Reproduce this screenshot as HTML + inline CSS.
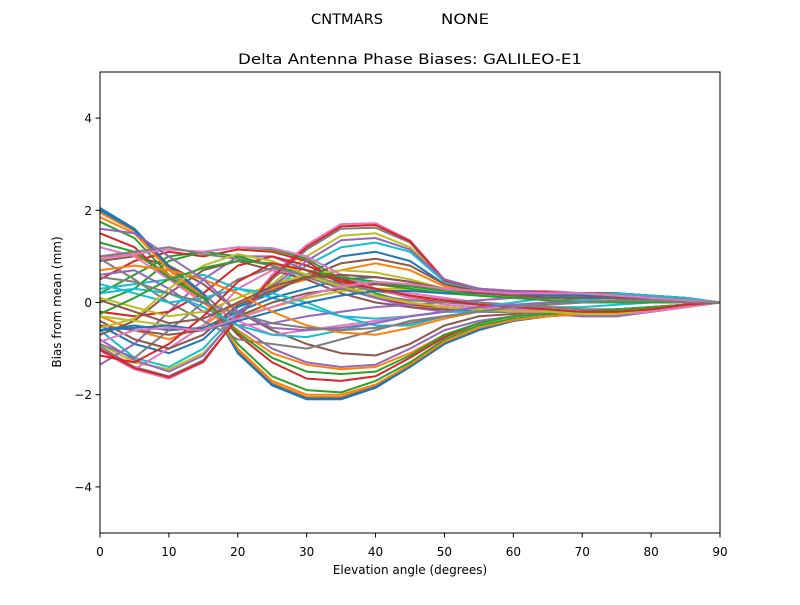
<!DOCTYPE html>
<html><head><meta charset="utf-8"><style>
body{margin:0;background:#fff}
svg text{font-family:"DejaVu Sans","Liberation Sans",sans-serif;fill:#000}
</style></head><body>
<svg id="chart" width="800" height="600" viewBox="0 0 800 600" xmlns="http://www.w3.org/2000/svg">
<rect width="800" height="600" fill="#fff"/>
<text x="311" y="24" font-size="14" textLength="72" lengthAdjust="spacingAndGlyphs">CNTMARS</text>
<text x="441" y="24" font-size="14" textLength="48" lengthAdjust="spacingAndGlyphs">NONE</text>
<text x="238" y="64" font-size="14.4" textLength="344" lengthAdjust="spacingAndGlyphs">Delta Antenna Phase Biases: GALILEO-E1</text>
<text x="410" y="574" font-size="12" text-anchor="middle">Elevation angle (degrees)</text>
<text transform="translate(61,302) rotate(-90)" font-size="12" text-anchor="middle">Bias from mean (mm)</text>
<defs><clipPath id="clip"><rect x="100" y="72" width="620" height="461"/></clipPath></defs>
<g id="lines" clip-path="url(#clip)"></g>
<g id="axes"></g>
</svg>
<script>
const elevations=[0,5,10,15,20,25,30,35,40,45,50,55,60,65,70,75,80,85,90];
const xTicks=[0,10,20,30,40,50,60,70,80,90];
const yTicks=[-4,-2,0,2,4];
const s1=[2.05,1.6,0.8,0.2,-1.1,-1.8,-2.1,-2.1,-1.85,-1.4,-0.9,-0.6,-0.4,-0.3,-0.25,-0.2,-0.15,-0.05,0];
const s2=[1.95,1.55,0.75,0.15,-1.05,-1.75,-2.05,-2.05,-1.8,-1.35,-0.85,-0.55,-0.4,-0.3,-0.25,-0.2,-0.12,-0.05,0];
const s3=[1.75,1.4,0.6,0.1,-0.9,-1.6,-1.9,-1.95,-1.7,-1.3,-0.8,-0.5,-0.35,-0.3,-0.25,-0.2,-0.1,-0.05,0];
const s4=[1.5,1.2,0.5,0.1,-0.7,-1.3,-1.65,-1.7,-1.6,-1.2,-0.75,-0.45,-0.3,-0.25,-0.2,-0.15,-0.1,-0.05,0];
const s5=[1.0,1.1,0.6,0.2,-0.5,-1.0,-1.3,-1.4,-1.35,-1.0,-0.6,-0.4,-0.3,-0.25,-0.2,-0.2,-0.1,-0.05,0];
const s6=[0.9,1.0,0.8,0.4,-0.2,-0.6,-0.9,-1.1,-1.15,-0.9,-0.5,-0.3,-0.25,-0.2,-0.2,-0.15,-0.1,-0.05,0];
const s7=[-1.0,-1.45,-1.65,-1.3,-0.3,0.6,1.25,1.7,1.72,1.35,0.5,0.3,0.25,0.25,0.2,0.2,0.15,0.1,0];
const s8=[-0.95,-1.4,-1.6,-1.25,-0.35,0.5,1.15,1.6,1.62,1.3,0.45,0.3,0.25,0.2,0.2,0.2,0.15,0.1,0];
const s9=[-0.9,-1.3,-1.45,-1.1,-0.3,0.4,1.0,1.45,1.5,1.2,0.5,0.3,0.25,0.2,0.2,0.2,0.15,0.05,0];
const s10=[-0.6,-1.2,-1.4,-1.0,-0.2,0.3,0.8,1.2,1.3,1.1,0.45,0.3,0.2,0.2,0.2,0.15,0.1,0.05,0];
const s11=[-0.5,-0.9,-1.1,-0.8,-0.1,0.2,0.6,1.0,1.1,0.9,0.4,0.25,0.2,0.15,0.15,0.15,0.1,0.05,0];
const s12=[-0.3,-0.6,-0.8,-0.5,0.0,0.3,0.5,0.7,0.85,0.7,0.35,0.25,0.2,0.15,0.15,0.1,0.1,0.05,0];
const s13=[0.2,0.6,1.0,1.1,1.2,1.15,0.95,0.5,0.2,0.0,-0.1,-0.15,-0.2,-0.25,-0.3,-0.3,-0.2,-0.1,0];
const s14=[0.5,0.9,1.1,1.0,1.15,1.1,0.9,0.4,0.1,-0.05,-0.1,-0.15,-0.2,-0.25,-0.25,-0.25,-0.2,-0.1,0];
const s15=[-1.35,-0.9,-0.2,0.5,1.0,1.0,0.7,0.3,0.1,-0.1,-0.2,-0.2,-0.2,-0.25,-0.3,-0.3,-0.2,-0.1,0];
const s16=[-0.7,-0.4,0.2,0.7,0.9,0.7,0.5,0.2,0.0,-0.1,-0.15,-0.2,-0.2,-0.2,-0.25,-0.25,-0.15,-0.05,0];
const s17=[-1.05,-1.45,-1.0,-0.5,0.3,0.7,0.6,0.4,0.3,0.2,0.1,0.0,-0.1,-0.2,-0.25,-0.25,-0.15,-0.05,0];
const s18=[0.95,0.5,0.0,-0.4,-0.8,-0.9,-1.0,-0.8,-0.6,-0.4,-0.3,-0.2,-0.1,0.0,0.1,0.15,0.15,0.1,0];
const s19=[-0.3,-0.4,-0.5,-0.6,-0.3,-0.1,0.1,0.25,0.3,0.3,0.2,0.2,0.2,0.2,0.15,0.15,0.1,0.05,0];
const s20=[0.3,0.4,0.5,0.6,0.3,0.1,-0.1,-0.3,-0.35,-0.3,-0.2,-0.2,-0.15,-0.1,-0.1,-0.05,0.0,0.0,0];
const s21=[-0.6,-0.5,-0.6,-0.55,-0.2,0.1,0.3,0.5,0.55,0.45,0.3,0.25,0.25,0.2,0.2,0.15,0.1,0.05,0];
const s22=[1.0,1.05,0.6,0.0,-0.6,-1.1,-1.35,-1.45,-1.4,-1.1,-0.7,-0.45,-0.3,-0.25,-0.2,-0.2,-0.1,-0.05,0];
const s23=[0.0,0.3,0.9,1.1,1.0,0.8,0.6,0.5,0.4,0.3,0.2,0.15,0.1,0.05,0.05,0.0,0.0,0.0,0];
const s24=[-0.2,-0.3,-0.2,0.2,0.8,1.0,0.8,0.5,0.3,0.1,0.0,0.0,-0.05,-0.1,-0.15,-0.15,-0.1,-0.05,0];
const s25=[0.6,0.7,0.3,-0.2,-0.5,-0.45,-0.3,-0.2,-0.1,-0.05,0.0,0.05,0.1,0.1,0.1,0.1,0.05,0.0,0];
const s26=[-0.5,-0.6,-0.7,-0.6,-0.3,0.0,0.2,0.3,0.4,0.35,0.3,0.25,0.25,0.2,0.2,0.2,0.15,0.05,0];
const s27=[1.2,1.0,0.5,0.0,-0.4,-0.7,-0.6,-0.5,-0.4,-0.3,-0.2,-0.1,-0.05,0.0,0.0,0.05,0.05,0.0,0];
const s28=[-0.9,-1.2,-0.6,0.0,0.5,0.75,0.6,0.4,0.25,0.15,0.05,0.0,-0.05,-0.1,-0.15,-0.15,-0.1,-0.05,0];
const s29=[0.1,-0.1,-0.3,-0.2,0.1,0.4,0.6,0.7,0.65,0.5,0.3,0.2,0.15,0.1,0.1,0.1,0.05,0.0,0];
const s30=[0.4,0.2,0.0,0.1,0.3,0.2,0.0,-0.3,-0.5,-0.5,-0.3,-0.2,-0.1,0.0,0.05,0.1,0.1,0.05,0];
const s31=[2.0,1.58,0.78,0.18,-1.08,-1.78,-2.08,-2.08,-1.83,-1.38,-0.88,-0.58,-0.4,-0.3,-0.25,-0.2,-0.13,-0.05,0];
const s32=[1.85,1.5,0.7,0.12,-1.0,-1.7,-2.0,-2.0,-1.78,-1.35,-0.85,-0.55,-0.38,-0.3,-0.25,-0.2,-0.12,-0.05,0];
const s33=[1.3,1.1,0.55,0.1,-0.65,-1.2,-1.5,-1.55,-1.5,-1.15,-0.7,-0.45,-0.3,-0.25,-0.2,-0.15,-0.1,-0.05,0];
const s34=[-1.02,-1.42,-1.62,-1.28,-0.32,0.55,1.2,1.65,1.68,1.33,0.48,0.3,0.25,0.22,0.2,0.2,0.15,0.1,0];
const s35=[-0.8,-1.25,-1.5,-1.15,-0.25,0.35,0.9,1.35,1.4,1.15,0.5,0.3,0.25,0.2,0.2,0.18,0.12,0.05,0];
const s36=[-0.4,-0.8,-1.0,-0.7,-0.05,0.25,0.55,0.85,0.95,0.8,0.4,0.25,0.2,0.15,0.15,0.12,0.1,0.05,0];
const s37=[0.95,1.05,1.15,1.1,1.2,1.18,1.0,0.6,0.3,0.1,-0.05,-0.1,-0.15,-0.2,-0.25,-0.25,-0.2,-0.1,0];
const s38=[1.0,1.1,1.2,1.05,0.95,0.8,0.55,0.3,0.15,0.05,0.0,-0.05,-0.1,-0.15,-0.2,-0.2,-0.15,-0.05,0];
const s39=[-0.55,-0.35,0.3,0.8,1.05,0.9,0.6,0.35,0.15,0.0,-0.1,-0.15,-0.2,-0.2,-0.25,-0.25,-0.15,-0.05,0];
const s40=[0.2,0.3,0.2,-0.1,-0.5,-0.7,-0.75,-0.6,-0.45,-0.3,-0.2,-0.1,0.0,0.1,0.15,0.2,0.15,0.1,0];
const s41=[-0.6,-0.55,-0.5,-0.6,-0.4,-0.2,0.0,0.15,0.25,0.25,0.2,0.2,0.15,0.15,0.15,0.1,0.1,0.05,0];
const s42=[0.7,0.8,0.7,0.5,0.2,-0.2,-0.5,-0.65,-0.7,-0.55,-0.35,-0.2,-0.1,-0.05,0.0,0.05,0.05,0.0,0];
const s43=[-0.25,0.1,0.5,0.75,0.9,0.85,0.7,0.55,0.45,0.35,0.25,0.15,0.1,0.05,0.0,0.0,0.0,0.0,0];
const s44=[-1.15,-1.3,-0.9,-0.3,0.45,0.85,0.7,0.45,0.3,0.15,0.05,-0.05,-0.1,-0.15,-0.2,-0.2,-0.15,-0.05,0];
const s45=[1.6,1.5,1.0,0.5,-0.2,-0.55,-0.6,-0.55,-0.45,-0.3,-0.2,-0.1,-0.05,0.0,0.0,0.05,0.05,0.0,0];
const s46=[0.05,-0.2,-0.45,-0.35,0.0,0.35,0.55,0.6,0.55,0.45,0.3,0.2,0.15,0.1,0.1,0.1,0.05,0.0,0];
const s47=[-0.85,-0.6,-0.55,-0.6,-0.35,-0.1,0.15,0.35,0.45,0.4,0.3,0.25,0.2,0.2,0.2,0.15,0.1,0.05,0];
const s48=[0.55,0.45,0.2,0.0,-0.25,-0.45,-0.55,-0.6,-0.55,-0.45,-0.3,-0.2,-0.1,-0.05,0.0,0.05,0.05,0.0,0];
const seriesList=[s1,s2,s3,s4,s5,s6,s7,s8,s9,s10,s11,s12,s13,s14,s15,s16,s17,s18,s19,s20,s21,s22,s23,s24,s25,s26,s27,s28,s29,s30,s31,s32,s33,s34,s35,s36,s37,s38,s39,s40,s41,s42,s43,s44,s45,s46,s47,s48];
const colors=["#1f77b4","#ff7f0e","#2ca02c","#d62728","#9467bd","#8c564b","#e377c2","#7f7f7f","#bcbd22","#17becf"];
const NS="http://www.w3.org/2000/svg";
const X0=100,X1=720,Y0=533,Y1=72;
function xs(v){return X0+(v-0)/(90-0)*(X1-X0);}
function ys(v){return Y0-(v+5)/10*(Y0-Y1);}
const lines=document.getElementById('lines');
seriesList.forEach((s,i)=>{
  const p=document.createElementNS(NS,'polyline');
  p.setAttribute('points',s.map((v,j)=>xs(elevations[j]).toFixed(1)+','+ys(v).toFixed(1)).join(' '));
  p.setAttribute('fill','none');
  p.setAttribute('stroke',colors[i%10]);
  p.setAttribute('stroke-width','2');
  p.setAttribute('stroke-linejoin','round');
  
  
  lines.appendChild(p);
});
const axes=document.getElementById('axes');
const frame=document.createElementNS(NS,'rect');
frame.setAttribute('x',X0);frame.setAttribute('y',Y1);frame.setAttribute('width',X1-X0);frame.setAttribute('height',Y0-Y1);
frame.setAttribute('fill','none');frame.setAttribute('stroke','#000');frame.setAttribute('stroke-width','1');


axes.appendChild(frame);
xTicks.forEach(t=>{
  const l=document.createElementNS(NS,'line');
  l.setAttribute('x1',xs(t));l.setAttribute('x2',xs(t));l.setAttribute('y1',Y0);l.setAttribute('y2',Y0+4.5);
  l.setAttribute('stroke','#000');l.setAttribute('stroke-width','1');
  
  
  axes.appendChild(l);
  const tx=document.createElementNS(NS,'text');
  tx.setAttribute('x',xs(t));tx.setAttribute('y',Y0+23);tx.setAttribute('font-size','12');tx.setAttribute('text-anchor','middle');
  tx.textContent=t;
  
  
  axes.appendChild(tx);
});
yTicks.forEach(t=>{
  const l=document.createElementNS(NS,'line');
  l.setAttribute('x1',X0-4.5);l.setAttribute('x2',X0);l.setAttribute('y1',ys(t));l.setAttribute('y2',ys(t));
  l.setAttribute('stroke','#000');l.setAttribute('stroke-width','1');
  
  
  axes.appendChild(l);
  const tx=document.createElementNS(NS,'text');
  tx.setAttribute('x',X0-8);tx.setAttribute('y',ys(t)+4.5);tx.setAttribute('font-size','12');tx.setAttribute('text-anchor','end');
  tx.textContent=t<0?'\u2212'+Math.abs(t):String(t);
  
  
  axes.appendChild(tx);
});
</script>
</body></html>
